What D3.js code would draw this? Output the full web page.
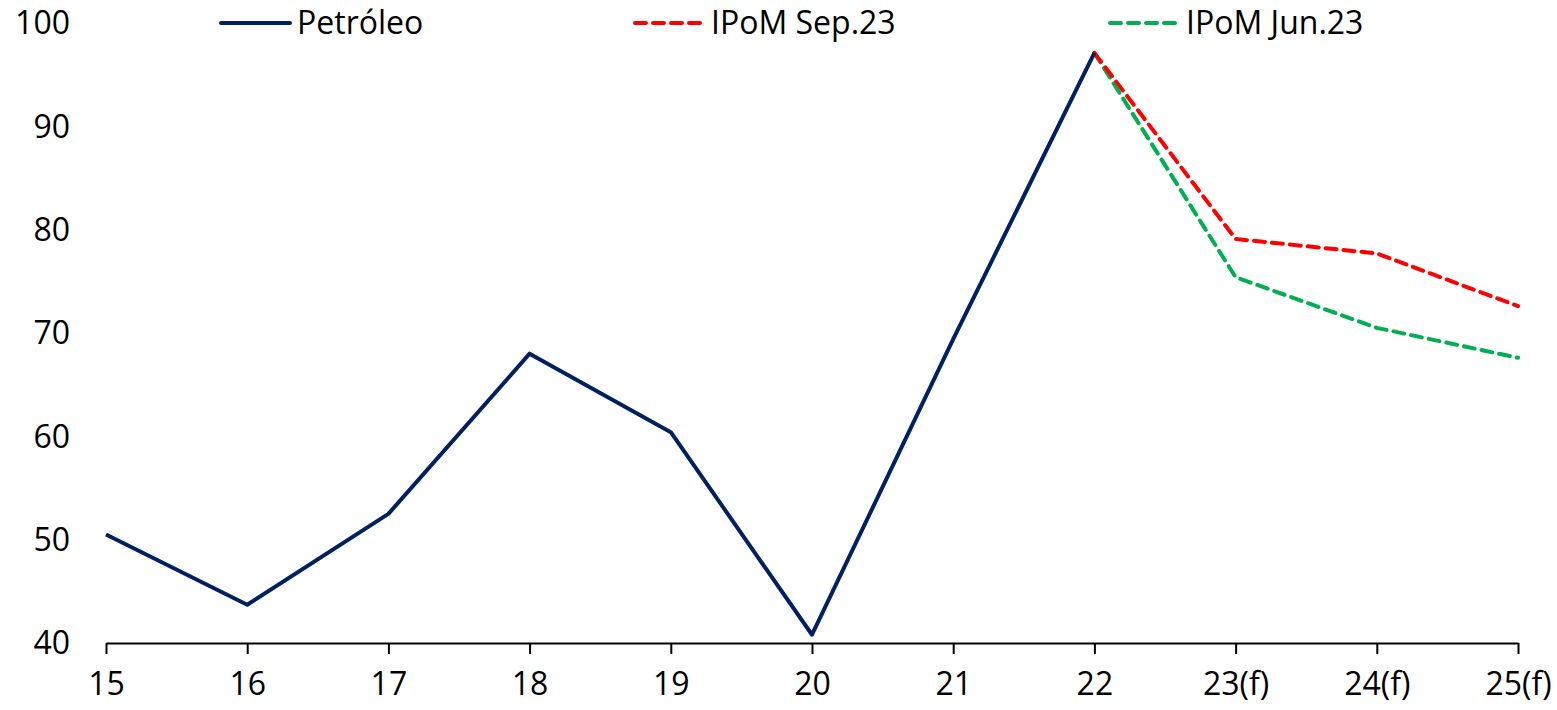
<!doctype html>
<html lang="es">
<head>
  <meta charset="utf-8">
  <script src="https://d3js.org/d3.v7.min.js"></script>
  <style>
    html, body { margin: 0; padding: 0; background: #fff; }
    svg text { font-family: "Open Sans", "Noto Sans", sans-serif; fill: #000; }
  </style>
</head>
<body>
<script>
  // categories (years) and series values
  var years = ["15", "16", "17", "18", "19", "20", "21", "22", "23(f)", "24(f)", "25(f)"];
  var petroleo = [50.5, 43.7, 52.5, 68.0, 60.4, 40.8, 69.4, 97.1, null, null, null];
  var ipomSep = [null, null, null, null, null, null, null, 97.1, 79.1, 77.7, 72.6];
  var ipomJun = [null, null, null, null, null, null, null, 97.1, 75.4, 70.5, 67.6];
  var yTicks = [40, 50, 60, 70, 80, 90, 100];

  var width = 1557, height = 710;
  var margin = {left: 106, right: 39, top: 23, bottom: 68};

  var svg = d3.select("body").append("svg")
    .attr("width", width)
    .attr("height", height);

  var x = d3.scalePoint()
    .domain(years)
    .range([margin.left, width - margin.right]);

  var y = d3.scaleLinear()
    .domain([40, 100])
    .range([height - margin.bottom + 1, margin.top]);

  // x axis
  var xAxis = svg.append("g")
    .attr("transform", "translate(0," + y(40) + ")")
    .call(d3.axisBottom(x).tickSize(11).tickPadding(18).tickSizeOuter(0));
  xAxis.select(".domain").attr("stroke", "#000").attr("stroke-width", 2);
  xAxis.selectAll(".tick line").attr("stroke", "#000").attr("stroke-width", 2);
  xAxis.selectAll("text").style("font-size", "32px").attr("fill", "#000");

  // y labels (no axis line)
  svg.append("g").selectAll("text")
    .data(yTicks)
    .enter().append("text")
    .attr("x", 70)
    .attr("y", function(d) { return y(d); })
    .attr("dy", "0.35em")
    .attr("text-anchor", "end")
    .style("font-size", "32px")
    .text(function(d) { return d; });

  function lineFor(values) {
    return d3.line()
      .defined(function(d) { return d != null; })
      .x(function(d, i) { return x(years[i]); })
      .y(function(d) { return y(d); })(values);
  }

  var series = [
    {name: "IPoM Jun.23", values: ipomJun, color: "#00B050", dash: "11,7"},
    {name: "IPoM Sep.23", values: ipomSep, color: "#FF0000", dash: "11,7"},
    {name: "Petróleo", values: petroleo, color: "#002060", dash: null}
  ];

  series.forEach(function(s) {
    svg.append("path")
      .attr("d", lineFor(s.values))
      .attr("fill", "none")
      .attr("stroke", s.color)
      .attr("stroke-width", 4)
      .attr("stroke-linejoin", "round")
      .attr("stroke-linecap", s.dash ? "round" : "butt")
      .attr("stroke-dasharray", s.dash);
  });

  // legend
  var legend = [
    {name: "Petróleo", color: "#002060", dash: null, x: 221},
    {name: "IPoM Sep.23", color: "#FF0000", dash: "11,7", x: 635},
    {name: "IPoM Jun.23", color: "#00B050", dash: "11,7", x: 1110}
  ];
  var lg = svg.append("g").selectAll("g")
    .data(legend)
    .enter().append("g")
    .attr("transform", function(d) { return "translate(" + d.x + ",23)"; });
  lg.append("line")
    .attr("x1", 0).attr("x2", 69)
    .attr("stroke", function(d) { return d.color; })
    .attr("stroke-width", 4)
    .attr("stroke-linecap", "round")
    .attr("stroke-dasharray", function(d) { return d.dash; });
  lg.append("text")
    .attr("x", 76)
    .attr("dy", "0.35em")
    .style("font-size", "32px")
    .text(function(d) { return d.name; });
</script>
</body>
</html>
